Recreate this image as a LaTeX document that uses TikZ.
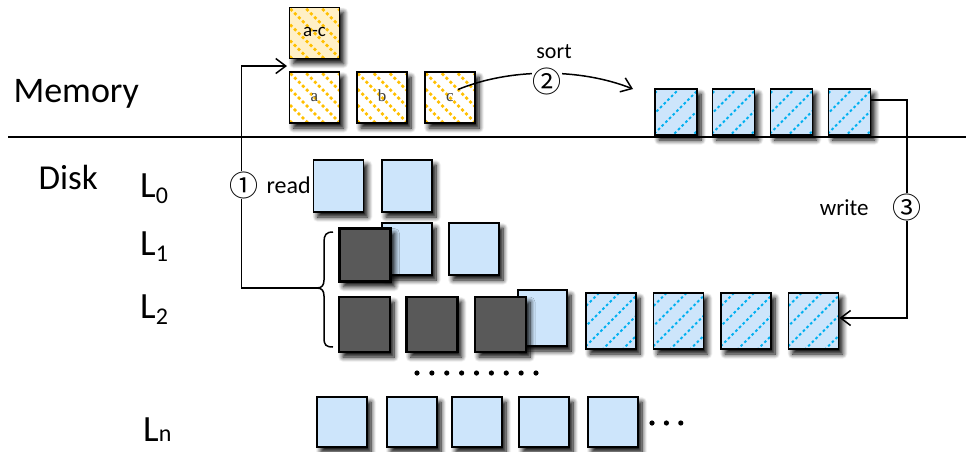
\documentclass[tikz,border=0pt]{standalone}
\usepackage{fontspec}
\setmainfont{Carlito}
\newfontfamily\circfont{Noto Sans CJK SC}
\newfontfamily\lblserif{Liberation Serif}
\usetikzlibrary{arrows.meta,shadows.blur,calc}

\definecolor{boxblue}{HTML}{CDE5FB}
\definecolor{hatchblue}{HTML}{00B0F0}
\definecolor{hatchgold}{HTML}{FFC000}
\definecolor{paleyellow}{HTML}{FFF0C6}
\definecolor{runsgray}{HTML}{595959}

% level name with a lowered index
\newcommand\levelname[2][6pt]{L\raisebox{-#1}{\fontsize{24}{24}\selectfont #2}}

\tikzset{
  softshadow/.style={blur shadow={shadow xshift=4pt, shadow yshift=-5pt,
      shadow blur radius=5pt, shadow blur steps=8, shadow opacity=100}},
  blockbase/.style={rectangle, draw=black, line width=1.7pt, inner sep=0pt, softshadow},
  % diagonal dotted hatching, "\" direction
  goldhatch/.style={path picture={
      \foreach \k in {-64,-48,...,64}
        \draw[hatchgold, line width=2.7pt, dash pattern=on 2.9pt off 2.7pt]
          ($(path picture bounding box.center)+(\k pt-40pt,40pt)$) -- ++(80pt,-80pt);
    }},
  % diagonal dotted hatching, "/" direction
  bluehatch/.style={path picture={
      \foreach \k in {-60,-40,...,60}
        \draw[hatchblue, line width=1.9pt, dash pattern=on 2.6pt off 2.6pt]
          ($(path picture bounding box.center)+(\k pt-40pt,-40pt)$) -- ++(80pt,80pt);
    }},
  membox/.style={blockbase, goldhatch, minimum width=50pt, minimum height=51pt},
  letterbox/.style={membox, fill=white, font=\lblserif\fontsize{17}{17}\selectfont,
      text=black!75, text height=1.8ex, text depth=0pt},
  sortedbox/.style={blockbase, bluehatch, fill=boxblue, minimum width=42pt, minimum height=46pt},
  runbox/.style={blockbase, fill=boxblue, minimum width=50pt, minimum height=52pt},
  oldbox/.style={blockbase, fill=runsgray, line width=2.4pt, minimum width=51pt, minimum height=55pt},
  newbox/.style={blockbase, bluehatch, fill=boxblue, minimum width=50pt, minimum height=56pt},
  lastbox/.style={blockbase, fill=boxblue, minimum width=50pt, minimum height=50pt},
  conn/.style={draw=black, line width=1.5pt},
  tip/.style={-{Straight Barb[length=10pt,width=15pt]}},
  circled/.style={fill=white, inner sep=0.4pt, font=\circfont\fontsize{29}{29}\selectfont},
  lvl/.style={anchor=base west, inner sep=0pt, font=\fontsize{37}{38}\selectfont},
}

\begin{document}
\begin{tikzpicture}[x=1pt,y=-1pt]
\useasboundingbox (0,0) rectangle (966,451);

% memory / disk divider
\draw[line width=1.5pt] (8,137) -- (966,137);

\node[anchor=base west, font=\fontsize{36}{38}\selectfont] (memlbl) at (10,102) {Memory};
\node[anchor=base west, font=\fontsize{35}{36}\selectfont] (disklbl) at (35,189) {Disk};

\node[lvl] (l0lbl) at (140,197) {\levelname{0}};
\node[lvl] (l1lbl) at (140,255) {\levelname{1}};
\node[lvl] (l2lbl) at (140,318) {\levelname{2}};
\node[lvl] (lnlbl) at (143,441) {\levelname[0.5pt]{n}};

% blocks read into memory
\node[membox, fill=paleyellow, font=\fontsize{19}{19}\selectfont,
      text height=1.4ex, text depth=0pt] (ac) at (314.5,33) {a-c};
\node[letterbox] (a) at (314.5,97.5) {a};
\node[letterbox] (b) at (382,97.5) {b};
\node[letterbox] (c) at (450,97.5) {c};

% sorted output in memory
\node[sortedbox] (m1) at (676,112) {};
\node[sortedbox] (m2) at (733.5,112) {};
\node[sortedbox] (m3) at (791.5,112) {};
\node[sortedbox] (m4) at (849.5,112) {};

% level 0
\node[runbox] (z1) at (338.5,186) {};
\node[runbox] (z2) at (407,186) {};

% level 1
\node[runbox] (o1) at (407,249) {};
\node[runbox] (o2) at (474,249) {};
\node[oldbox, minimum height=53pt] (o0) at (365,255) {};

% level 2
\node[runbox, minimum width=49pt, minimum height=56pt] (t4) at (542.5,318) {};
\node[oldbox] (t1) at (364.5,324.5) {};
\node[oldbox] (t2) at (432,324.5) {};
\node[oldbox] (t3) at (500.5,324.5) {};
\node[newbox] (h1) at (611,321) {};
\node[newbox] (h2) at (678.5,321) {};
\node[newbox] (h3) at (746,321) {};
\node[newbox] (h4) at (813.5,321) {};

% level n
\node[lastbox] (n1) at (342,422) {};
\node[lastbox] (n2) at (412,422) {};
\node[lastbox] (n3) at (477,422) {};
\node[lastbox] (n4) at (544,422) {};
\node[lastbox] (n5) at (613,422) {};

% elided levels and blocks
\foreach \i in {0,...,8}
  \fill (417+\i*14.875,373) circle (2.6pt);
\foreach \i in {0,1,2}
  \fill (652+\i*14.4,423) circle (2.6pt);

% brace grouping the overlapping runs of L1 and L2
\coordinate (bracetip) at (317,288);
\draw[conn] (333,232) .. controls (326,232) and (324,235) .. (324,242)
  -- (324,280) .. controls (324,285) and (322,288) .. (bracetip)
  .. controls (322,288) and (324,291) .. (324,296)
  -- (324,338) .. controls (324,345) and (326,347) .. (333,347);

% (1) read
\coordinate (readtop) at (241.5,66);
\coordinate (readend) at (287,66);
\draw[conn, tip] (bracetip) -| (readtop) -- (readend);

% (2) sort
\coordinate (sortend) at (633,89);
\draw[conn, tip] ([shift={(8pt,8pt)}]c.center) .. controls (510,68) and (580,68) .. (sortend);

% (3) write
\coordinate (wrtop) at (907,100);
\coordinate (wrbot) at (907,318);
\draw[conn, tip] ([yshift=12pt]m4.east) -- (wrtop) -- (wrbot) -- ([yshift=3pt]h4.east);

\node[anchor=base west, font=\fontsize{24}{24}\selectfont] (readlbl) at (263,193) {read};
\node[anchor=base, font=\fontsize{22}{22}\selectfont] (sortlbl) at (554,58) {sort};
\node[anchor=base east, font=\fontsize{23}{23}\selectfont] (writelbl) at (872,215) {write};

\node[circled] (s1) at (243.5,185) {①};
\node[circled] (s2) at (547,81) {②};
\node[circled] (s3) at (907,207) {③};
\end{tikzpicture}
\end{document}
